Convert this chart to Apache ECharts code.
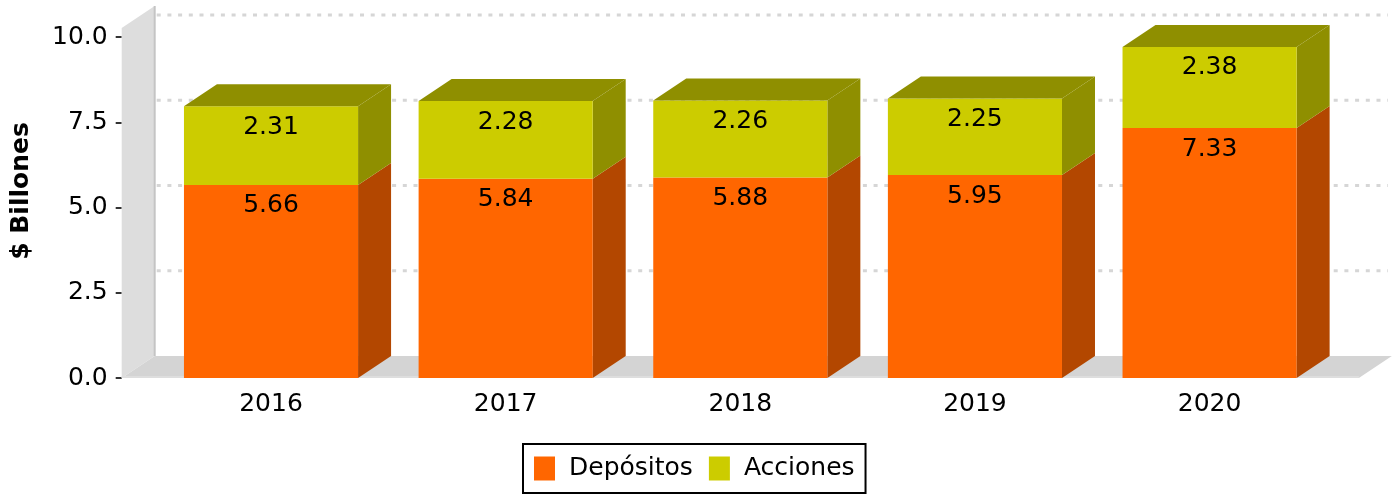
<!DOCTYPE html>
<html>
<head>
<meta charset="utf-8">
<script src="https://cdn.jsdelivr.net/npm/echarts@6/dist/echarts.min.js"></script>
<style>
  html, body { margin: 0; padding: 0; background: #fff; }
  #chart { width: 1400px; height: 496px; }
</style>
</head>
<body>
<div id="chart"></div>
<script>
const categories = ['2016', '2017', '2018', '2019', '2020']
const depositos = [5.66, 5.84, 5.88, 5.95, 7.33]
const acciones = [2.31, 2.28, 2.26, 2.25, 2.38]
const yTicks = [0, 2.5, 5, 7.5, 10]

// 3d look
const DX = 33
const DY = 22
const PAD = 32
const FONT = '"DejaVu Sans", sans-serif'

const chart = echarts.init(document.getElementById('chart'))

const depData = categories.map((c, i) => [i, 0, depositos[i], depositos[i]])
const accData = categories.map((c, i) => [i, depositos[i], depositos[i] + acciones[i], acciones[i]])

function renderBackground(params, api) {
  const cs = params.coordSys
  const L = cs.x - PAD
  const R = cs.x + cs.width + PAD
  const yb = cs.y + cs.height
  const yt = cs.y - 9
  const children = [
    {
      type: 'polygon',
      shape: { points: [[L, yb], [L, yt], [L + DX, yt - DY], [L + DX, yb - DY]] },
      style: { fill: '#dddddd' }
    },
    {
      type: 'polygon',
      shape: { points: [[L, yb], [R, yb], [R + DX, yb - DY], [L + DX, yb - DY]] },
      style: { fill: '#d4d4d4' }
    },
    {
      type: 'line',
      shape: { x1: L, y1: yb - 1, x2: R, y2: yb - 1 },
      style: { stroke: '#dedede', lineWidth: 2 }
    },
    {
      type: 'line',
      shape: { x1: L + DX, y1: yt - DY, x2: L + DX, y2: yb - DY },
      style: { stroke: '#c4c4c4', lineWidth: 2 }
    }
  ]
  yTicks.forEach(t => {
    if (t === 0) return
    const y = api.coord([0, t])[1] - DY
    children.push({
      type: 'line',
      shape: { x1: L + DX + 2, y1: y, x2: R + DX - 4, y2: y },
      style: { stroke: '#d6d6d6', lineWidth: 3, lineDash: [4, 6.7] }
    })
  })
  return { type: 'group', children }
}

function barRenderer(front, dark, drawTop) {
  return function (params, api) {
    const i = api.value(0)
    const p0 = api.coord([i, api.value(1)])
    const p1 = api.coord([i, api.value(2)])
    const w = api.size([1, 0])[0] * 0.742
    const x0 = p0[0] - w / 2
    const x1 = p0[0] + w / 2
    const yb = p0[1]
    const yt = p1[1]
    const children = [
      {
        type: 'polygon',
        shape: { points: [[x1, yt], [x1 + DX, yt - DY], [x1 + DX, yb - DY], [x1, yb]] },
        style: { fill: dark }
      },
      {
        type: 'rect',
        shape: { x: x0, y: yt, width: w, height: yb - yt },
        style: { fill: front }
      }
    ]
    if (drawTop) {
      children.push({
        type: 'polygon',
        shape: { points: [[x0, yt], [x0 + DX, yt - DY], [x1 + DX, yt - DY], [x1, yt]] },
        style: { fill: dark }
      })
    }
    children.push({
      type: 'text',
      style: {
        x: p0[0],
        y: yt + 21,
        text: api.value(3).toFixed(2),
        fill: '#000',
        font: '25px ' + FONT,
        align: 'center',
        verticalAlign: 'middle'
      }
    })
    return { type: 'group', children }
  }
}

chart.setOption({
  animation: false,
  grid: {
    left: 153.7,
    right: 73.1,
    top: 37,
    bottom: 118
  },
  legend: {
    data: ['Depósitos', 'Acciones'],
    left: 523,
    top: 444,
    icon: 'rect',
    itemWidth: 21,
    itemHeight: 24,
    itemGap: 16,
    padding: [12, 11, 12, 11],
    borderColor: '#000',
    borderWidth: 2,
    textStyle: { fontSize: 25, fontFamily: FONT, color: '#000', padding: [0, 0, 0, 9] }
  },
  graphic: [
    {
      type: 'text',
      x: 21,
      y: 191,
      rotation: Math.PI / 2,
      style: {
        text: '$ Billones',
        font: 'bold 25px ' + FONT,
        fill: '#000',
        align: 'center',
        verticalAlign: 'middle'
      }
    }
  ],
  xAxis: {
    type: 'category',
    data: categories,
    axisLine: { show: false },
    axisTick: { show: false },
    axisLabel: { color: '#000', fontSize: 25, fontFamily: FONT, margin: 14 }
  },
  yAxis: {
    type: 'value',
    min: 0,
    max: 10,
    interval: 2.5,
    offset: 32,
    axisLine: { show: false },
    axisTick: { show: true, length: 6, lineStyle: { color: '#333', width: 2 } },
    splitLine: { show: false },
    axisLabel: {
      color: '#000',
      fontSize: 25,
      fontFamily: FONT,
      margin: 14,
      formatter: v => v.toFixed(1)
    }
  },
  series: [
    {
      name: 'bg',
      type: 'custom',
      silent: true,
      clip: false,
      z: 1,
      data: [[0, 0]],
      renderItem: renderBackground
    },
    {
      name: 'Depósitos',
      type: 'custom',
      silent: true,
      clip: false,
      z: 2,
      itemStyle: { color: '#ff6600' },
      data: depData,
      renderItem: barRenderer('#ff6600', '#b34700', false)
    },
    {
      name: 'Acciones',
      type: 'custom',
      silent: true,
      clip: false,
      z: 3,
      itemStyle: { color: '#cccc00' },
      data: accData,
      renderItem: barRenderer('#cccc00', '#8f8f00', true)
    }
  ]
})
</script>
</body>
</html>
